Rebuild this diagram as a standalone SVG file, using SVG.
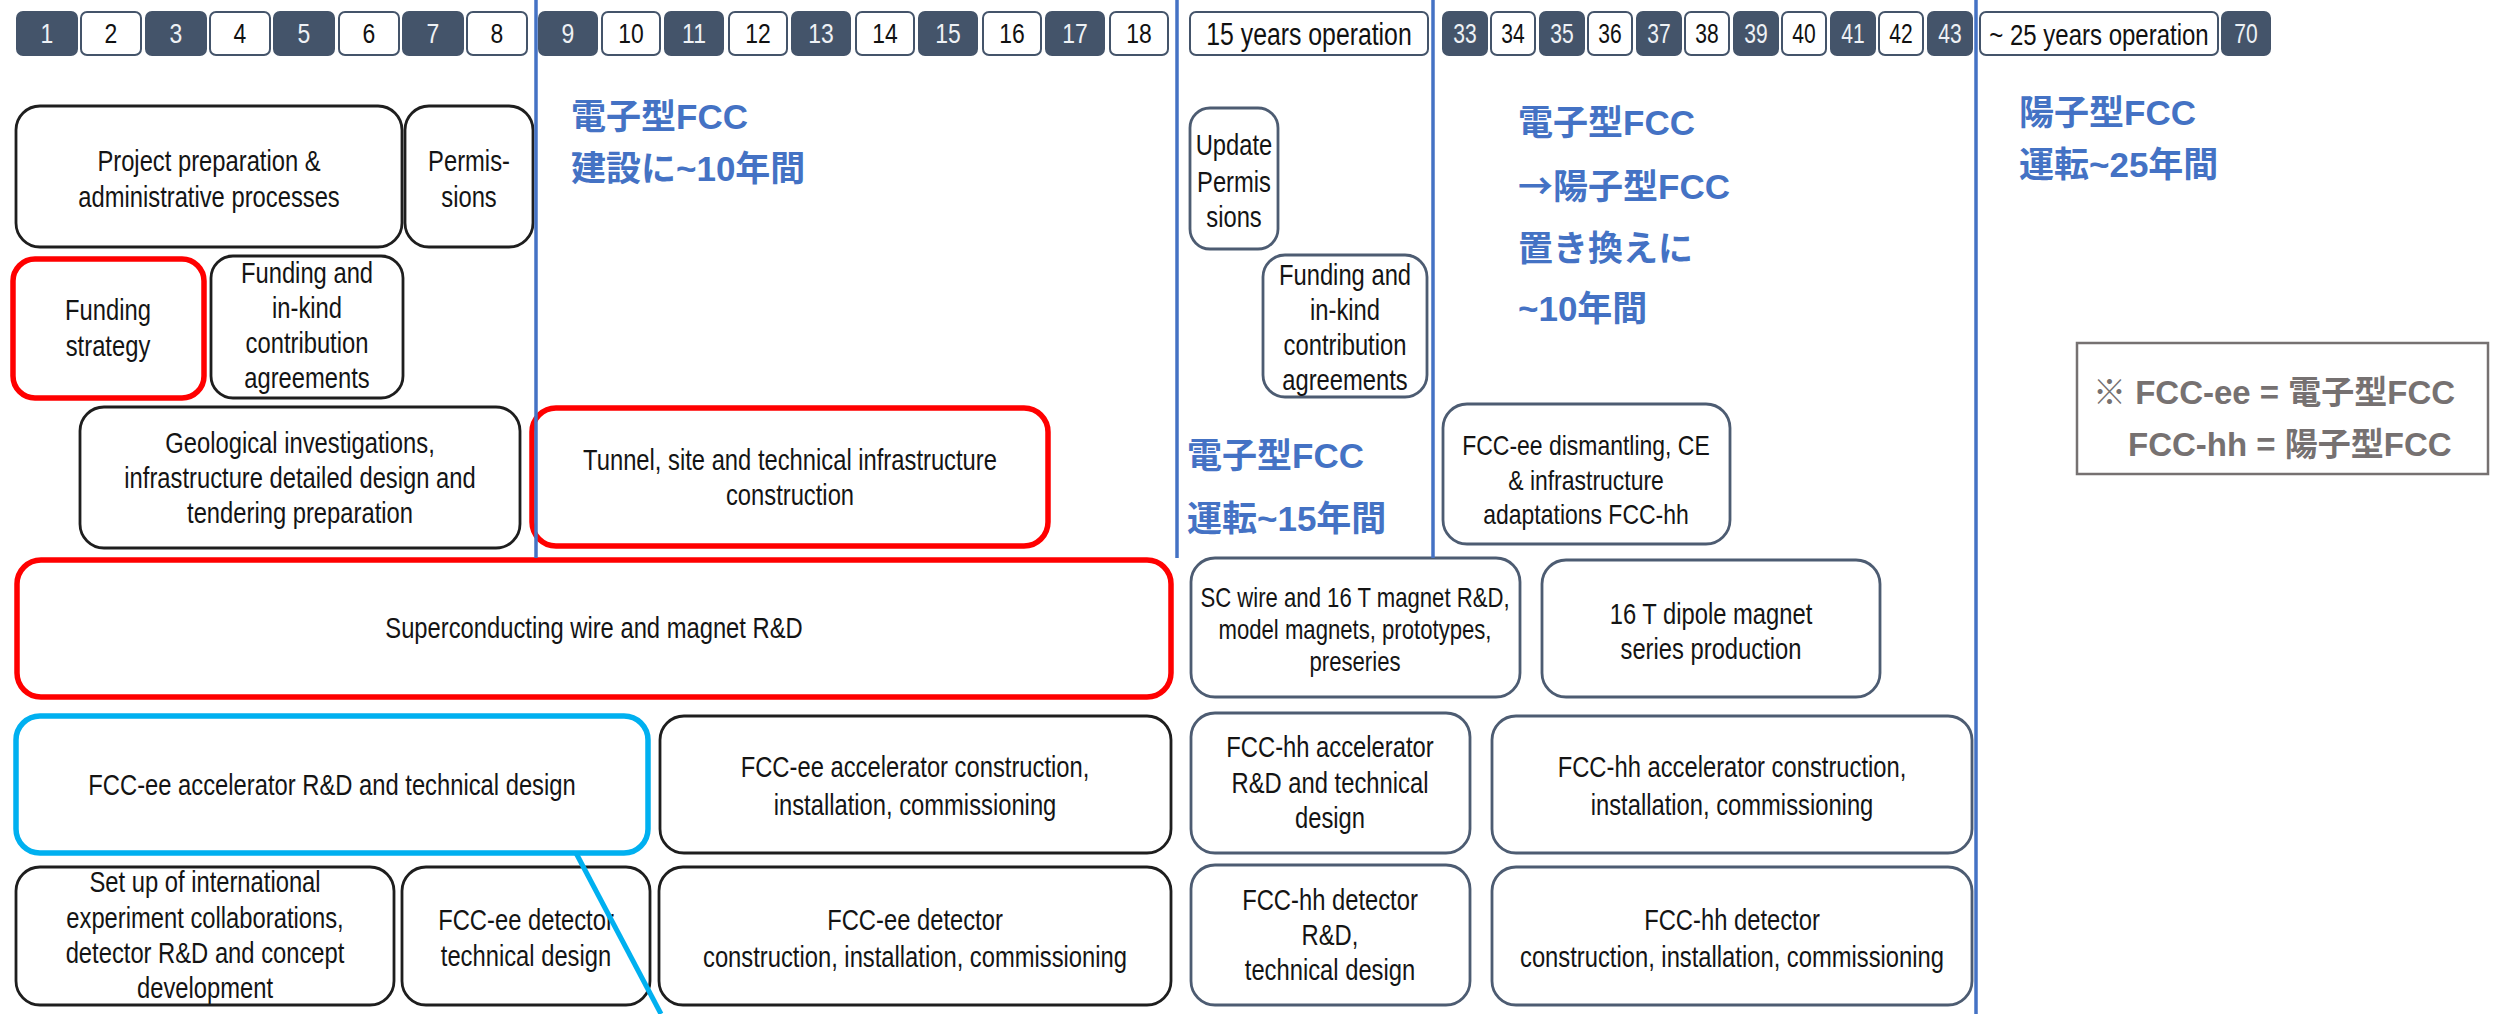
<svg xmlns="http://www.w3.org/2000/svg" width="2501" height="1014" viewBox="0 0 2501 1014">
<style>
.hd{fill:#44546a;stroke:#44546a;stroke-width:2}
.hw{fill:#fff;stroke:#44546a;stroke-width:2}
.hnd{font-family:"Liberation Sans",Arial,sans-serif;font-size:27px;fill:#eef1f5;text-anchor:middle}
.hnw{font-family:"Liberation Sans",Arial,sans-serif;font-size:27px;fill:#111;text-anchor:middle}
.b{fill:#fff;stroke:#1e1e1e;stroke-width:2.8}
.bb{fill:#fff;stroke:#4d5c72;stroke-width:2.8}
.r{fill:#fff;stroke:#ff0000;stroke-width:5.5}
.c{fill:#fff;stroke:#00b0f0;stroke-width:5.5}
.t{font-family:"Liberation Sans",Arial,sans-serif;font-size:29px;fill:#141414;text-anchor:middle}
.ts{font-size:27px}
.lbl{font-family:"Liberation Sans","Noto Sans CJK JP",sans-serif;font-weight:bold;font-size:35px;fill:#4472c4}
.cjk{font-family:"Noto Sans CJK JP",sans-serif}
.note{font-family:"Liberation Sans","Noto Sans CJK JP",sans-serif;font-weight:bold;font-size:33px;fill:#767171}
.vl{stroke:#4472c4;stroke-width:3.5;fill:none}
</style>
<rect width="2501" height="1014" fill="#fff"/>

<g id="header">
<g id="h1"><rect class="hd" x="17" y="12" width="60" height="43" rx="6"/><text class="hnd" transform="matrix(0.85 0 0 1 47 0)" y="43">1</text></g>
<g id="h2"><rect class="hw" x="81" y="12" width="60" height="43" rx="6"/><text class="hnw" transform="matrix(0.85 0 0 1 111 0)" y="43">2</text></g>
<g id="h3"><rect class="hd" x="146" y="12" width="60" height="43" rx="6"/><text class="hnd" transform="matrix(0.85 0 0 1 176 0)" y="43">3</text></g>
<g id="h4"><rect class="hw" x="210" y="12" width="60" height="43" rx="6"/><text class="hnw" transform="matrix(0.85 0 0 1 240 0)" y="43">4</text></g>
<g id="h5"><rect class="hd" x="274" y="12" width="60" height="43" rx="6"/><text class="hnd" transform="matrix(0.85 0 0 1 304 0)" y="43">5</text></g>
<g id="h6"><rect class="hw" x="339" y="12" width="60" height="43" rx="6"/><text class="hnw" transform="matrix(0.85 0 0 1 369 0)" y="43">6</text></g>
<g id="h7"><rect class="hd" x="403" y="12" width="60" height="43" rx="6"/><text class="hnd" transform="matrix(0.85 0 0 1 433 0)" y="43">7</text></g>
<g id="h8"><rect class="hw" x="467" y="12" width="60" height="43" rx="6"/><text class="hnw" transform="matrix(0.85 0 0 1 497 0)" y="43">8</text></g>
<g id="h9"><rect class="hd" x="539" y="12" width="58" height="43" rx="6"/><text class="hnd" transform="matrix(0.85 0 0 1 568 0)" y="43">9</text></g>
<g id="h10"><rect class="hw" x="602" y="12" width="58" height="43" rx="6"/><text class="hnw" transform="matrix(0.85 0 0 1 631 0)" y="43">10</text></g>
<g id="h11"><rect class="hd" x="665" y="12" width="58" height="43" rx="6"/><text class="hnd" transform="matrix(0.85 0 0 1 694 0)" y="43">11</text></g>
<g id="h12"><rect class="hw" x="729" y="12" width="58" height="43" rx="6"/><text class="hnw" transform="matrix(0.85 0 0 1 758 0)" y="43">12</text></g>
<g id="h13"><rect class="hd" x="792" y="12" width="58" height="43" rx="6"/><text class="hnd" transform="matrix(0.85 0 0 1 821 0)" y="43">13</text></g>
<g id="h14"><rect class="hw" x="856" y="12" width="58" height="43" rx="6"/><text class="hnw" transform="matrix(0.85 0 0 1 885 0)" y="43">14</text></g>
<g id="h15"><rect class="hd" x="919" y="12" width="58" height="43" rx="6"/><text class="hnd" transform="matrix(0.85 0 0 1 948 0)" y="43">15</text></g>
<g id="h16"><rect class="hw" x="983" y="12" width="58" height="43" rx="6"/><text class="hnw" transform="matrix(0.85 0 0 1 1012 0)" y="43">16</text></g>
<g id="h17"><rect class="hd" x="1046" y="12" width="58" height="43" rx="6"/><text class="hnd" transform="matrix(0.85 0 0 1 1075 0)" y="43">17</text></g>
<g id="h18"><rect class="hw" x="1110" y="12" width="58" height="43" rx="6"/><text class="hnw" transform="matrix(0.85 0 0 1 1139 0)" y="43">18</text></g>
<g id="h15y"><rect class="hw" x="1190" y="12" width="238" height="43" rx="6"/><text class="hnw" style="font-size:31px" transform="matrix(0.8 0 0 1 1309 0)" y="45">15 years operation</text></g>
<g id="h33"><rect class="hd" x="1443" y="12" width="44" height="43" rx="6"/><text class="hnd" transform="matrix(0.78 0 0 1 1465 0)" y="43">33</text></g>
<g id="h34"><rect class="hw" x="1491" y="12" width="44" height="43" rx="6"/><text class="hnw" transform="matrix(0.78 0 0 1 1513 0)" y="43">34</text></g>
<g id="h35"><rect class="hd" x="1540" y="12" width="44" height="43" rx="6"/><text class="hnd" transform="matrix(0.78 0 0 1 1562 0)" y="43">35</text></g>
<g id="h36"><rect class="hw" x="1588" y="12" width="44" height="43" rx="6"/><text class="hnw" transform="matrix(0.78 0 0 1 1610 0)" y="43">36</text></g>
<g id="h37"><rect class="hd" x="1637" y="12" width="44" height="43" rx="6"/><text class="hnd" transform="matrix(0.78 0 0 1 1659 0)" y="43">37</text></g>
<g id="h38"><rect class="hw" x="1685" y="12" width="44" height="43" rx="6"/><text class="hnw" transform="matrix(0.78 0 0 1 1707 0)" y="43">38</text></g>
<g id="h39"><rect class="hd" x="1734" y="12" width="44" height="43" rx="6"/><text class="hnd" transform="matrix(0.78 0 0 1 1756 0)" y="43">39</text></g>
<g id="h40"><rect class="hw" x="1782" y="12" width="44" height="43" rx="6"/><text class="hnw" transform="matrix(0.78 0 0 1 1804 0)" y="43">40</text></g>
<g id="h41"><rect class="hd" x="1831" y="12" width="44" height="43" rx="6"/><text class="hnd" transform="matrix(0.78 0 0 1 1853 0)" y="43">41</text></g>
<g id="h42"><rect class="hw" x="1879" y="12" width="44" height="43" rx="6"/><text class="hnw" transform="matrix(0.78 0 0 1 1901 0)" y="43">42</text></g>
<g id="h43"><rect class="hd" x="1928" y="12" width="44" height="43" rx="6"/><text class="hnd" transform="matrix(0.78 0 0 1 1950 0)" y="43">43</text></g>
<g id="h25y"><rect class="hw" x="1980" y="12" width="238" height="43" rx="6"/><text class="hnw" style="font-size:30px" transform="matrix(0.8 0 0 1 2099 0)" y="45">~ 25 years operation</text></g>
<g id="h70"><rect class="hd" x="2222" y="12" width="48" height="43" rx="6"/><text class="hnd" transform="matrix(0.78 0 0 1 2246 0)" y="43">70</text></g>
</g>

<g id="n-project"><rect class="b" x="16" y="106" width="386" height="141" rx="24"/>
<text class="t" transform="matrix(0.82 0 0 1 209 0)"><tspan x="0" y="171">Project preparation &amp;</tspan><tspan x="0" y="207">administrative processes</tspan></text></g>
<g id="n-permissions"><rect class="b" x="405" y="106" width="128" height="141" rx="24"/>
<text class="t" transform="matrix(0.82 0 0 1 469 0)"><tspan x="0" y="171">Permis-</tspan><tspan x="0" y="207">sions</tspan></text></g>
<g id="n-funding-strategy"><rect class="r" x="13" y="259" width="191" height="139" rx="22"/>
<text class="t" transform="matrix(0.82 0 0 1 108 0)"><tspan x="0" y="320">Funding</tspan><tspan x="0" y="356">strategy</tspan></text></g>
<g id="n-funding-1"><rect class="b" x="211" y="256" width="192" height="142" rx="22"/>
<text class="t" transform="matrix(0.82 0 0 1 307 0)"><tspan x="0" y="283">Funding and</tspan><tspan x="0" y="318">in-kind</tspan><tspan x="0" y="353">contribution</tspan><tspan x="0" y="388">agreements</tspan></text></g>
<g id="n-geo"><rect class="b" x="80" y="407" width="440" height="141" rx="24"/>
<text class="t" transform="matrix(0.82 0 0 1 300 0)"><tspan x="0" y="453">Geological investigations,</tspan><tspan x="0" y="488">infrastructure detailed design and</tspan><tspan x="0" y="523">tendering preparation</tspan></text></g>
<g id="n-tunnel"><rect class="r" x="532" y="408" width="516" height="138" rx="24"/>
<text class="t" transform="matrix(0.82 0 0 1 790 0)"><tspan x="0" y="470">Tunnel, site and technical infrastructure</tspan><tspan x="0" y="505">construction</tspan></text></g>
<g id="n-sc"><rect class="r" x="17" y="560" width="1154" height="137" rx="24"/>
<text class="t" transform="matrix(0.82 0 0 1 594 0)"><tspan x="0" y="638">Superconducting wire and magnet R&amp;D</tspan></text></g>
<g id="n-ee-acc-rd"><rect class="c" x="16" y="716" width="632" height="137" rx="24"/>
<text class="t" transform="matrix(0.82 0 0 1 332 0)"><tspan x="0" y="795">FCC-ee accelerator R&amp;D and technical design</tspan></text></g>
<g id="n-ee-acc-con"><rect class="b" x="660" y="716" width="511" height="137" rx="24"/>
<text class="t" transform="matrix(0.82 0 0 1 915 0)"><tspan x="0" y="777">FCC-ee accelerator construction,</tspan><tspan x="0" y="815">installation, commissioning</tspan></text></g>
<g id="n-setup"><rect class="b" x="16" y="867" width="378" height="138" rx="24"/>
<text class="t" transform="matrix(0.82 0 0 1 205 0)"><tspan x="0" y="892">Set up of international</tspan><tspan x="0" y="928">experiment collaborations,</tspan><tspan x="0" y="963">detector R&amp;D and concept</tspan><tspan x="0" y="998">development</tspan></text></g>
<g id="n-ee-det-td"><rect class="b" x="402" y="867" width="248" height="138" rx="24"/>
<text class="t" transform="matrix(0.82 0 0 1 526 0)"><tspan x="0" y="930">FCC-ee detector</tspan><tspan x="0" y="966">technical design</tspan></text></g>
<g id="n-ee-det-con"><rect class="b" x="659" y="867" width="512" height="138" rx="24"/>
<text class="t" transform="matrix(0.82 0 0 1 915 0)"><tspan x="0" y="930">FCC-ee detector</tspan><tspan x="0" y="967">construction, installation, commissioning</tspan></text></g>

<g id="n-update"><rect class="bb" x="1190" y="108" width="88" height="141" rx="20"/>
<text class="t" transform="matrix(0.82 0 0 1 1234 0)"><tspan x="0" y="155">Update</tspan><tspan x="0" y="192">Permis</tspan><tspan x="0" y="227">sions</tspan></text></g>
<g id="n-funding-2"><rect class="bb" x="1263" y="255" width="164" height="142" rx="22"/>
<text class="t" transform="matrix(0.82 0 0 1 1345 0)"><tspan x="0" y="285">Funding and</tspan><tspan x="0" y="320">in-kind</tspan><tspan x="0" y="355">contribution</tspan><tspan x="0" y="390">agreements</tspan></text></g>
<g id="n-dismantle"><rect class="bb" x="1443" y="404" width="287" height="140" rx="24"/>
<text class="t" style="font-size:28px" transform="matrix(0.82 0 0 1 1586 0)"><tspan x="0" y="455">FCC-ee dismantling, CE</tspan><tspan x="0" y="490">&amp; infrastructure</tspan><tspan x="0" y="524">adaptations FCC-hh</tspan></text></g>
<g id="n-scwire"><rect class="bb" x="1191" y="558" width="329" height="139" rx="24"/>
<text class="t ts" transform="matrix(0.82 0 0 1 1355 0)"><tspan x="0" y="607">SC wire and 16 T magnet R&amp;D,</tspan><tspan x="0" y="639">model magnets, prototypes,</tspan><tspan x="0" y="671">preseries</tspan></text></g>
<g id="n-dipole"><rect class="bb" x="1542" y="560" width="338" height="137" rx="24"/>
<text class="t" transform="matrix(0.82 0 0 1 1711 0)"><tspan x="0" y="624">16 T dipole magnet</tspan><tspan x="0" y="659">series production</tspan></text></g>
<g id="n-hh-acc-rd"><rect class="bb" x="1191" y="713" width="279" height="140" rx="24"/>
<text class="t" transform="matrix(0.82 0 0 1 1330 0)"><tspan x="0" y="757">FCC-hh accelerator</tspan><tspan x="0" y="793">R&amp;D and technical</tspan><tspan x="0" y="828">design</tspan></text></g>
<g id="n-hh-acc-con"><rect class="bb" x="1492" y="716" width="480" height="137" rx="24"/>
<text class="t" transform="matrix(0.82 0 0 1 1732 0)"><tspan x="0" y="777">FCC-hh accelerator construction,</tspan><tspan x="0" y="815">installation, commissioning</tspan></text></g>
<g id="n-hh-det-rd"><rect class="bb" x="1191" y="865" width="279" height="140" rx="24"/>
<text class="t" transform="matrix(0.82 0 0 1 1330 0)"><tspan x="0" y="910">FCC-hh detector</tspan><tspan x="0" y="945">R&amp;D,</tspan><tspan x="0" y="980">technical design</tspan></text></g>
<g id="n-hh-det-con"><rect class="bb" x="1492" y="867" width="480" height="138" rx="24"/>
<text class="t" transform="matrix(0.82 0 0 1 1732 0)"><tspan x="0" y="930">FCC-hh detector</tspan><tspan x="0" y="967">construction, installation, commissioning</tspan></text></g>

<g id="labels">
<text class="lbl"><tspan x="571" y="129">電子型FCC</tspan><tspan x="571" y="181">建設に~10年間</tspan></text>
<text class="lbl"><tspan x="1518" y="135">電子型FCC</tspan><tspan x="1518" y="199"><tspan class="cjk">→</tspan>陽子型FCC</tspan><tspan x="1518" y="261">置き換えに</tspan><tspan x="1518" y="321">~10年間</tspan></text>
<text class="lbl"><tspan x="1187" y="468">電子型FCC</tspan><tspan x="1187" y="531">運転~15年間</tspan></text>
<text class="lbl"><tspan x="2019" y="125">陽子型FCC</tspan><tspan x="2019" y="177">運転~25年間</tspan></text>
</g>

<g id="n-note"><rect x="2077" y="343" width="411" height="131" fill="#fff" stroke="#767171" stroke-width="2.5"/>
<text class="note"><tspan x="2093" y="404">※ FCC-ee = 電子型FCC</tspan><tspan x="2128" y="456">FCC-hh = 陽子型FCC</tspan></text></g>

<g id="connectors">
<line class="vl" x1="536" y1="0" x2="536" y2="558"/>
<line class="vl" x1="1177" y1="0" x2="1177" y2="558"/>
<line class="vl" x1="1433" y1="0" x2="1433" y2="558"/>
<line class="vl" x1="1976" y1="0" x2="1976" y2="1014"/>
<line x1="576" y1="853" x2="661" y2="1014" stroke="#00b0f0" stroke-width="5"/>
</g>
</svg>
